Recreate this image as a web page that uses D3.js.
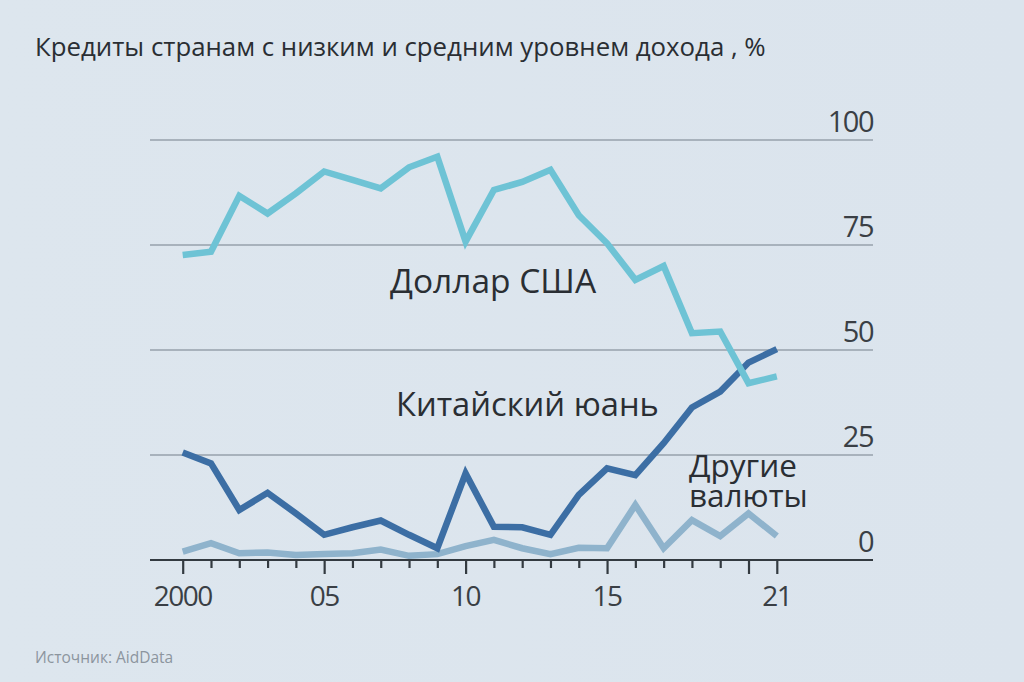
<!DOCTYPE html>
<html><head><meta charset="utf-8">
<script src="https://cdn.jsdelivr.net/npm/d3@7"></script>
<style>
html,body{margin:0;padding:0;background:#dce5ee;}
svg{display:block;}
</style></head>
<body>
<script>
const years = d3.range(2000, 2022);
const dollar = [72.6,73.4,86.7,82.5,87.3,92.5,90.5,88.5,93.5,96.0,75.8,88.1,90.0,92.9,82.1,75.4,66.7,70.0,54.0,54.4,42.1,43.7];
const yuan   = [25.6,23.0,11.9,16.0,11.1,6.0,7.8,9.4,6.0,2.8,20.6,7.9,7.8,6.0,15.5,21.8,20.2,27.8,36.3,40.1,47.0,50.2];
const other  = [2.0,4.0,1.6,1.8,1.2,1.4,1.6,2.5,1.0,1.4,3.3,4.8,2.8,1.4,2.9,2.8,13.1,2.8,9.5,5.7,11.1,5.7];
const yTicks = [0,25,50,75,100];
const xTickLabels = [[2000,"2000"],[2005,"05"],[2010,"10"],[2015,"15"],[2021,"21"]];
const majorTicks = [2000,2005,2010,2015,2020,2021];

const W=1024,H=682;
const svg=d3.select("body").append("svg").attr("width",W).attr("height",H);
const bg=svg.append("defs").append("linearGradient").attr("id","bg").attr("x1",0).attr("x2",1);
bg.append("stop").attr("offset","0").attr("stop-color","#dde6ee");
bg.append("stop").attr("offset","1").attr("stop-color","#dbe4ed");
svg.append("rect").attr("width",W).attr("height",H).attr("fill","url(#bg)");

const font="'Open Sans', 'Noto Sans', sans-serif";
const x=d3.scaleLinear().domain([2000,2021]).range([182.7,776.8]);
const y=d3.scaleLinear().domain([0,100]).range([560,140]);
const xL=150, xR=873;

// gridlines
svg.append("g").selectAll("line").data(yTicks.filter(d=>d>0)).join("line")
  .attr("x1",xL).attr("x2",xR).attr("y1",d=>y(d)).attr("y2",d=>y(d))
  .attr("stroke","#a8b2bc").attr("stroke-width",2);

// y tick labels
svg.append("g").selectAll("text").data(yTicks).join("text")
  .attr("x",xR).attr("y",d=>y(d)-8).attr("text-anchor","end")
  .attr("font-family",font).attr("font-size",29).attr("fill","#3a3f45")
  .attr("letter-spacing",-1.5)
  .text(d=>d);

// x axis
const xAxis=d3.axisBottom(x).tickValues(years).tickSize(8).tickFormat("");
const gx=svg.append("g").attr("transform","translate(0,560)").call(xAxis);
gx.select(".domain").remove();
gx.selectAll(".tick line").attr("stroke","#333a40").attr("stroke-width",2.2)
  .attr("y2",d=>majorTicks.includes(d)?14:8);
svg.append("line").attr("x1",xL).attr("x2",xR).attr("y1",560).attr("y2",560)
  .attr("stroke","#333a40").attr("stroke-width",2.2);
svg.append("g").selectAll("text").data(xTickLabels).join("text")
  .attr("x",d=>x(d[0])).attr("y",606).attr("text-anchor","middle")
  .attr("font-family",font).attr("font-size",28).attr("fill","#3a3f45")
  .attr("letter-spacing",-1.5)
  .text(d=>d[1]);

// lines
const line=d3.line().x((d,i)=>x(years[i])).y(d=>y(d));
const series=[[other,"#8fb3cc"],[yuan,"#3c6ea4"],[dollar,"#6ec3d5"]];
svg.append("g").selectAll("path").data(series).join("path")
  .attr("d",d=>line(d[0])).attr("fill","none").attr("stroke",d=>d[1])
  .attr("stroke-width",6.5).attr("stroke-linejoin","miter").attr("stroke-linecap","butt");

// labels
const txt="#2a2e33";
svg.append("text").attr("x",35).attr("y",56).attr("font-family",font).attr("font-size",25.8)
  .attr("fill",txt).text("Кредиты странам с низким и средним уровнем дохода , %");
svg.append("text").attr("x",390).attr("y",293).attr("font-family",font).attr("font-size",33.5)
  .attr("fill",txt).text("Доллар США");
svg.append("text").attr("x",396).attr("y",416).attr("font-family",font).attr("font-size",32.7)
  .attr("fill",txt).text("Китайский юань");
svg.append("text").attr("x",689).attr("y",477).attr("font-family",font).attr("font-size",31.5)
  .attr("fill",txt).text("Другие");
svg.append("text").attr("x",689).attr("y",507).attr("font-family",font).attr("font-size",31.5)
  .attr("fill",txt).text("валюты");
svg.append("text").attr("x",35).attr("y",663).attr("font-family",font).attr("font-size",15.5)
  .attr("fill","#8c959e").text("Источник: AidData");
</script>
</body></html>
